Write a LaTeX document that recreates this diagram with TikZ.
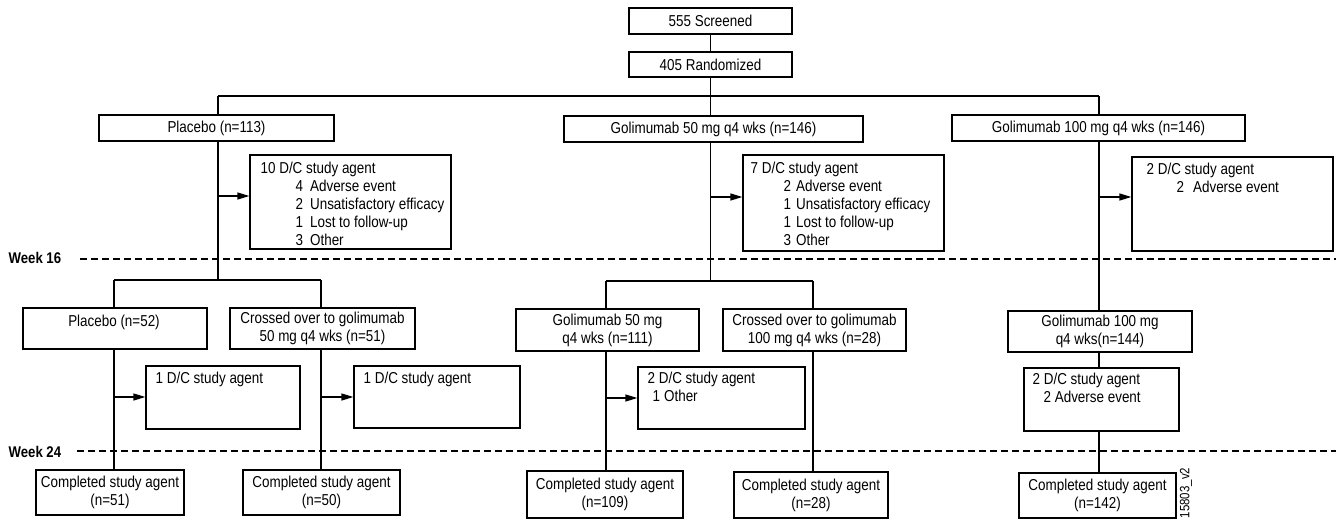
\documentclass[tikz,border=0pt]{standalone}
\usepackage{fontspec}
\setmainfont[FakeStretch=0.85]{Liberation Sans}
\usetikzlibrary{arrows.meta}
\newcommand\myfs{\fontsize{15.8}{18}\selectfont}
\newcommand\myfsb{\fontsize{15.5}{15.5}\selectfont\bfseries}
\begin{document}
\begin{tikzpicture}[x=1pt,y=-1pt,line width=1.3pt,
  box/.style={draw=black,line width=1.3pt,inner sep=0pt,align=center,font=\myfs},
  txt/.style={inner sep=0pt,align=left,anchor=north west,font=\myfs},
  arr/.style={-{Triangle[length=12pt,width=7pt]}},
  wk/.style={line width=2.5pt,dash pattern=on 7pt off 4pt},
  wklab/.style={inner sep=0pt,anchor=west,font=\myfsb}]
\useasboundingbox (0,0) rectangle (1336,520);
\fill[white] (0,0) rectangle (1336,520);

% top
\node[box,minimum width=163pt,minimum height=26pt] (scr) at (710.5,21) {555 Screened};
\node[box,minimum width=163pt,minimum height=25pt] (rand) at (710.5,64.5) {405 Randomized};
\draw (scr) -- (rand);
\coordinate (b1) at (218,96);
\coordinate (b2) at (710.5,96);
\coordinate (b3) at (1099,96);
\draw (b1) -- (b3);
\draw (rand.south) -- (b2);

\node[box,minimum width=235pt,minimum height=26pt] (plac) at (216.5,128) {Placebo (n=113)};
\node[box,minimum width=299pt,minimum height=26pt] (g50) at (713.5,129) {Golimumab 50 mg q4 wks (n=146)};
\node[box,minimum width=293pt,minimum height=26pt] (g100) at (1098.5,128) {Golimumab 100 mg q4 wks (n=146)};
\draw (b1) -- (b1 |- plac.north);
\draw (b2) -- (b2 |- g50.north);
\draw (b3) -- (b3 |- g100.north);

% upper D/C boxes
\node[box,minimum width=201pt,minimum height=94pt] (dc1) at (350.5,202) {};
\node[txt] (t1) at (260,161.5) {10 D/C study agent\\
\hspace*{35pt}4\hspace{7pt}Adverse event\\
\hspace*{35pt}2\hspace{7pt}Unsatisfactory efficacy\\
\hspace*{35pt}1\hspace{7pt}Lost to follow-up\\
\hspace*{35pt}3\hspace{7pt}Other};
\node[box,minimum width=201pt,minimum height=96pt] (dc2) at (843.5,203) {};
\node[txt] (t2) at (750,161.5) {7 D/C study agent\\
\hspace*{33pt}2\hspace{5pt}Adverse event\\
\hspace*{33pt}1\hspace{5pt}Unsatisfactory efficacy\\
\hspace*{33pt}1\hspace{5pt}Lost to follow-up\\
\hspace*{33pt}3\hspace{5pt}Other};
\node[box,minimum width=201pt,minimum height=94pt] (dc3) at (1232.5,204) {};
\node[txt] (t3) at (1146,162.5) {2 D/C study agent\\
\hspace*{30pt}2\hspace{9pt}Adverse event};

\coordinate (a1) at (218,196);
\coordinate (a2) at (710.5,197);
\coordinate (a3) at (1099,197);
\draw[arr] (a1) -- (a1 -| dc1.west);
\draw[arr] (a2) -- (a2 -| dc2.west);
\draw[arr] (a3) -- (a3 -| dc3.west);

% week 16
\node[wklab] (w16) at (8,258) {Week 16};
\coordinate (w16s) at (80,259);
\coordinate (w16e) at (1336,259);
\draw[wk] (w16s) -- (w16e);

% placebo branch
\coordinate (c1) at (218,280);
\draw (b1 |- plac.south) -- (c1);
\coordinate (l1) at (114,280);
\coordinate (l2) at (321,280);
\draw (l1) -- (l2);
\node[box,minimum width=184pt,minimum height=41pt] (p52) at (115,328.5) {};
\node[inner sep=0pt,font=\myfs] (p52t) at (114,322) {Placebo (n=52)};
\node[box,minimum width=185pt,minimum height=41pt] (co50) at (322.5,328.5) {Crossed over to golimumab\\50 mg q4 wks (n=51)};
\draw (l1) -- (l1 |- p52.north);
\draw (l2) -- (l2 |- co50.north);

\node[box,minimum width=154pt,minimum height=63pt] (dcp) at (223,397.5) {};
\node[txt] (tp) at (155,371.8) {1 D/C study agent};
\node[box,minimum width=166pt,minimum height=62pt] (dcc) at (437,397) {};
\node[txt] (tc) at (363,371.8) {1 D/C study agent};
\coordinate (a4) at (114,397);
\coordinate (a5) at (321,397);
\draw[arr] (a4) -- (a4 -| dcp.west);
\draw[arr] (a5) -- (a5 -| dcc.west);

\node[box,minimum width=148pt,minimum height=45pt] (cp51) at (110,492.5) {Completed study agent\\(n=51)};
\node[box,minimum width=157pt,minimum height=45pt] (cp50) at (321.5,492.5) {Completed study agent\\(n=50)};
\draw (l1 |- p52.south) -- (l1 |- cp51.north);
\draw (l2 |- co50.south) -- (l2 |- cp50.north);

% golimumab 50 branch
\coordinate (c2) at (710.5,281);
\draw (b2 |- g50.south) -- (c2);
\coordinate (l3) at (606,281);
\coordinate (l4) at (813,281);
\draw (l3) -- (l4);
\node[box,minimum width=183pt,minimum height=42pt] (g50b) at (607.5,330) {Golimumab 50 mg\\q4 wks (n=111)};
\node[box,minimum width=183pt,minimum height=42pt] (co100) at (814.5,330) {Crossed over to golimumab\\100 mg q4 wks (n=28)};
\draw (l3) -- (l3 |- g50b.north);
\draw (l4) -- (l4 |- co100.north);
\node[box,minimum width=167pt,minimum height=62pt] (dcg) at (721.5,398) {};
\node[txt] (tg) at (647,371.8) {2 D/C study agent\\\hspace*{5pt}1\hspace{4pt}Other};
\coordinate (a6) at (606,398);
\draw[arr] (a6) -- (a6 -| dcg.west);
\node[box,minimum width=156pt,minimum height=47pt] (cp109) at (605,494.5) {Completed study agent\\(n=109)};
\node[box,minimum width=154pt,minimum height=46pt] (cp28) at (811,495) {Completed study agent\\(n=28)};
\draw (l3 |- g50b.south) -- (l3 |- cp109.north);
\draw (l4 |- co100.south) -- (l4 |- cp28.north);

% golimumab 100 branch
\node[box,minimum width=184pt,minimum height=41pt] (g100b) at (1100,331.5) {Golimumab 100 mg\\q4 wks(n=144)};
\node[box,minimum width=155pt,minimum height=63pt] (dch) at (1101.5,399.5) {};
\node[txt] (th) at (1032,372.8) {2 D/C study agent\\\hspace*{11pt}2 Adverse event};
\node[box,minimum width=157pt,minimum height=45pt] (cp142) at (1097.5,495.5) {Completed study agent\\(n=142)};
\draw (b3 |- g100.south) -- (b3 |- g100b.north);
\draw (b3 |- g100b.south) -- (b3 |- dch.north);
\draw (b3 |- dch.south) -- (b3 |- cp142.north);

% week 24
\node[wklab] (w24) at (8,452) {Week 24};
\coordinate (w24s) at (77,451);
\coordinate (w24e) at (1336,451);
\draw[wk] (w24s) -- (w24e);

\node[inner sep=0pt,rotate=90,font=\fontsize{13.5}{13.5}\selectfont] (code) at (1186,493) {15803\_v2};
\end{tikzpicture}
\end{document}
